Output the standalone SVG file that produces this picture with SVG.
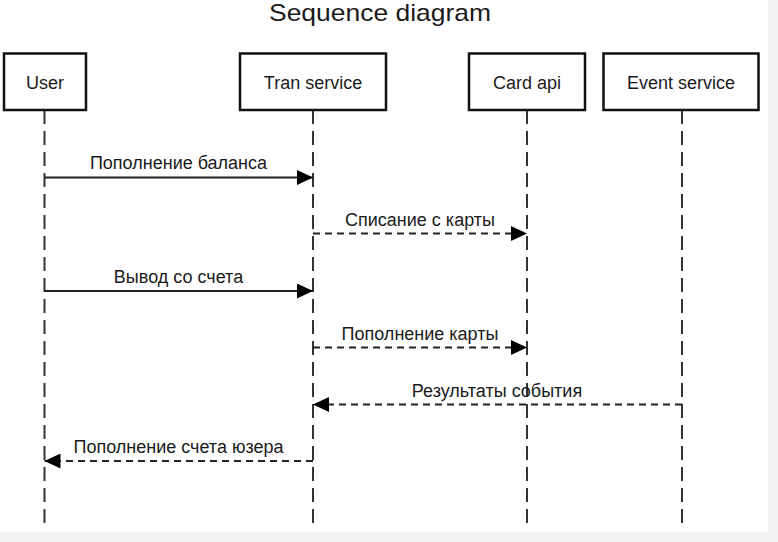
<svg xmlns="http://www.w3.org/2000/svg" width="778" height="542" viewBox="0 0 778 542">
  <style>
    .box { fill: #ffffff; stroke: #111111; stroke-width: 2.5; }
    .lbl { font-family: "Liberation Sans", Arial, sans-serif; font-size: 18px; fill: #1a1a1a; text-anchor: middle; }
    .life { stroke: #333333; stroke-width: 2; stroke-dasharray: 14 7; fill: none; }
    .msg { stroke: #222222; stroke-width: 2; fill: none; marker-end: url(#arrow); }
    .dash { stroke-dasharray: 7 5; }
  </style>
  <defs>
    <marker id="arrow" viewBox="0 0 16 15" refX="16" refY="7.5" markerWidth="16" markerHeight="15" markerUnits="userSpaceOnUse" orient="auto">
      <path d="M0,0 L16,7.5 L0,15 Z" fill="#000000"/>
    </marker>
  </defs>
  <rect x="0" y="0" width="778" height="542" fill="#ffffff"/>
  <rect x="768" y="0" width="10" height="542" fill="#f3f3f3"/>
  <rect x="0" y="532.5" width="778" height="9.5" fill="#f3f3f3"/>

  <text x="380" y="21" font-family="'Liberation Sans', Arial, sans-serif" font-size="24" fill="#1a1a1a" text-anchor="middle" textLength="222" lengthAdjust="spacingAndGlyphs">Sequence diagram</text>

  <g id="lifelines">
    <path class="life" d="M44.5,110 V530"/>
    <path class="life" d="M313,110 V530"/>
    <path class="life" d="M527,110 V530"/>
    <path class="life" d="M682,110 V530"/>
  </g>

  <g id="user">
    <rect class="box" x="4" y="53.5" width="82" height="56.5"/>
    <text class="lbl" x="45" y="88.5">User</text>
  </g>
  <g id="tran-service">
    <rect class="box" x="240" y="53.5" width="146" height="56.5"/>
    <text class="lbl" x="313" y="88.5">Tran service</text>
  </g>
  <g id="card-api">
    <rect class="box" x="469" y="53.5" width="116" height="56.5"/>
    <text class="lbl" x="527" y="88.5">Card api</text>
  </g>
  <g id="event-service">
    <rect class="box" x="603.5" y="53.5" width="155" height="56.5"/>
    <text class="lbl" x="681" y="88.5">Event service</text>
  </g>

  <g id="connectors">
    <path class="msg" d="M44.5,177.5 H313"/>
    <text class="lbl" x="178.5" y="168.5">Пополнение баланса</text>

    <path class="msg dash" d="M313,233.5 H527"/>
    <text class="lbl" x="420" y="225.5">Списание с карты</text>

    <path class="msg" d="M44.5,291 H313"/>
    <text class="lbl" x="178.5" y="282.5">Вывод со счета</text>

    <path class="msg dash" d="M313,347.5 H527"/>
    <text class="lbl" x="420" y="339.5">Пополнение карты</text>

    <path class="msg dash" d="M682,404.5 H313"/>
    <text class="lbl" x="497" y="396.5">Результаты события</text>

    <path class="msg dash" d="M313,461 H44.5"/>
    <text class="lbl" x="178.5" y="453">Пополнение счета юзера</text>
  </g>
</svg>
